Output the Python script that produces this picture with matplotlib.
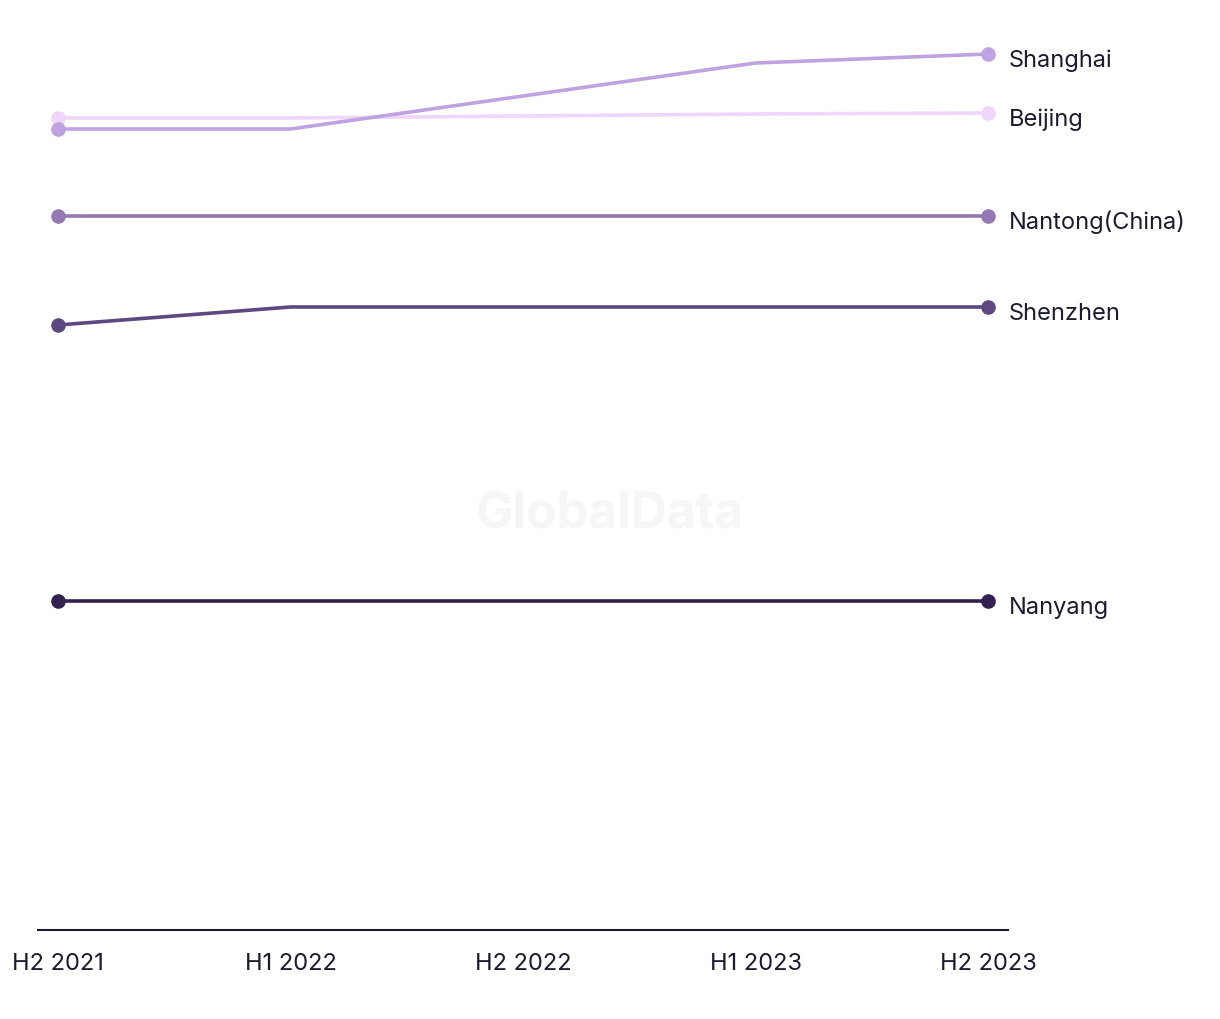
import matplotlib.pyplot as plt
import numpy as np

# data (index-like values)
periods = ['H2 2021', 'H1 2022', 'H2 2022', 'H1 2023', 'H2 2023']
cities = ['Nanyang', 'Shenzhen', 'Nantong(China)', 'Beijing', 'Shanghai']
nanyang = [32.9, 32.9, 32.9, 32.9, 32.9]
shenzhen = [60.5, 62.3, 62.3, 62.3, 62.3]
nantong = [71.4, 71.4, 71.4, 71.4, 71.4]
beijing = [81.2, 81.2, 81.4, 81.6, 81.7]
shanghai = [80.1, 80.1, 83.4, 86.7, 87.6]
colors = ['#33214f', '#5d487f', '#9478b3', '#f0d6fa', '#bfa2e0']

series = [nanyang, shenzhen, nantong, beijing, shanghai]
text_col = '#1b1b2f'
plt.rcParams['font.family'] = ['Inter', 'DejaVu Sans']

fig = plt.figure(figsize=(12.2, 10.2), dpi=100)
ax = fig.add_axes([38/1220, 89/1020, 970/1220, 931/1020])
x = np.arange(len(periods))

for name, vals, c in zip(cities, series, colors):
    ax.plot(x, vals, color=c, lw=2.6, marker='o', markersize=9.5, markevery=[0, len(vals) - 1],
            solid_capstyle='butt', zorder=3)
    ax.annotate(name, (x[-1], vals[-1]), xytext=(15.2, -4), textcoords='offset points',
                va='center', ha='left', fontsize=17, color=text_col)

# watermark
fig.text(0.5, 1 - 515/1020, 'GlobalData', ha='center', va='center', fontsize=36,
         fontweight='bold', color='#f6f6f6', zorder=0)

ax.set_xlim(-0.086, 4.086)
ax.set_ylim(0, 93.1)
ax.set_xticks(x)
ax.set_xticklabels(periods, fontsize=17, color=text_col)
ax.tick_params(axis='x', length=0, pad=16)
ax.set_yticks([])
for s in ['top', 'right', 'left']:
    ax.spines[s].set_visible(False)
ax.spines['bottom'].set_color(text_col)
ax.spines['bottom'].set_linewidth(1.5)

plt.savefig('out.png', dpi=100)
